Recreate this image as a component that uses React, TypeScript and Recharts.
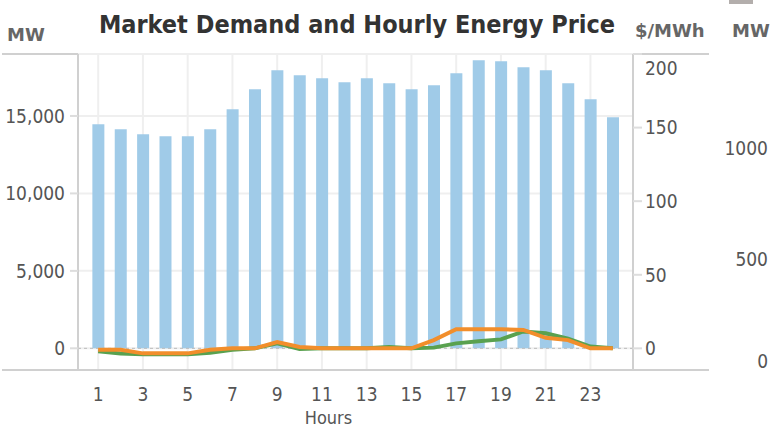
import React from "react";
import {
  Bar,
  CartesianGrid,
  ComposedChart,
  Line,
  ReferenceLine,
  XAxis,
  YAxis,
} from "recharts";

const hours = [1, 2, 3, 4, 5, 6, 7, 8, 9, 10, 11, 12, 13, 14, 15, 16, 17, 18, 19, 20, 21, 22, 23, 24];
const demandMw = [
  14460, 14140, 13820, 13690, 13690, 14140, 15430, 16720, 17950, 17630, 17430, 17180,
  17430, 17110, 16720, 16980, 17760, 18600, 18530, 18150, 17950, 17110, 16080, 14920,
];
const priceGreen = [-2, -3.5, -4, -4, -4, -3, -1, 0, 3.5, -0.5, 0, 0, 0, 1, 0, 0.5, 3.4, 4.8, 6.1, 11.5, 10.2, 6.6, 1.2, 0];
const priceOrange = [-1, -1, -3.4, -3.4, -3.4, -1, 0, 0, 4.3, 1, 0, 0, 0, 0, 0, 5.6, 13, 13, 13, 12.5, 7.2, 5.6, 0, 0];

const mwTicks = [0, 5000, 10000, 15000];
const priceTicks = [0, 50, 100, 150, 200];
const mw2Ticks = [0, 500, 1000];

const data = hours.map((h, i) => ({
  hour: h,
  demand: demandMw[i],
  green: priceGreen[i],
  orange: priceOrange[i],
}));

const FONT = "'DejaVu Sans Condensed', 'DejaVu Sans', sans-serif";
const tickStyle = { fontSize: 19, fill: "#555", fontFamily: FONT };

function PriceTick(p: any) {
  // keep the top label inside the frame
  const y = Math.max(p.y, 68);
  return (
    <text x={p.x} y={y} dy="0.355em" textAnchor="start" {...tickStyle}>
      {p.payload.value}
    </text>
  );
}

function Mw2Tick(p: any) {
  const y = Math.min(p.y, 361);
  return (
    <text x={p.x + 52} y={y} dy="0.355em" textAnchor="end" {...tickStyle}>
      {p.payload.value}
    </text>
  );
}

const unitStyle: React.CSSProperties = {
  position: "absolute",
  fontFamily: "'DejaVu Sans', sans-serif",
  fontWeight: 700,
  fontSize: 18,
  lineHeight: 1,
  color: "#666",
  whiteSpace: "nowrap",
};

export default function App() {
  return (
    <div style={{ position: "fixed", left: 0, top: 0, width: 771, height: 427, background: "#fff", overflow: "hidden" }}>
      <div style={{ position: "absolute", left: 2, top: 53, width: 707, height: 2, background: "#d0d0d0" }} />
      <div style={{ position: "absolute", left: 2, top: 369, width: 707, height: 2, background: "#d0d0d0" }} />
      <div style={{ position: "absolute", left: 729, top: 0, width: 24, height: 4, background: "#b3aeac" }} />
      <div
        style={{
          position: "absolute",
          left: 0,
          top: 12,
          width: 714,
          textAlign: "center",
          fontFamily: FONT,
          fontWeight: 700,
          fontSize: 25,
          lineHeight: 1,
          color: "#333",
        }}
      >
        Market Demand and Hourly Energy Price
      </div>
      <div style={{ ...unitStyle, left: 7, top: 26 }}>MW</div>
      <div style={{ ...unitStyle, left: 635, top: 22 }}>$/MWh</div>
      <div style={{ ...unitStyle, left: 732, top: 22 }}>MW</div>

      <div style={{ position: "absolute", left: 0, top: 0 }}>
        <ComposedChart
          width={771}
          height={427}
          data={data}
          margin={{ top: 54, right: 0, bottom: 0, left: 0 }}
          barCategoryGap="24%"
        >
          <CartesianGrid xAxisId="main" yAxisId="mw" stroke="#efefef" strokeWidth={2} />
          <XAxis
            xAxisId="a_hrs"
            dataKey="hour"
            height={0}
            interval={0}
            padding={{ left: 9, right: 9 }}
            axisLine={false}
            tickSize={10}
            tickLine={{ stroke: "#e8e8e8" }}
            tick={() => <g />}
          />
          <XAxis
            xAxisId="main"
            dataKey="hour"
            height={57}
            interval={1}
            padding={{ left: 9, right: 9 }}
            axisLine={{ stroke: "#d0d0d0", strokeWidth: 2 }}
            tickLine={false}
            tickSize={10}
            tickMargin={8}
            tick={tickStyle}
            label={{
              value: "Hours",
              position: "insideBottom",
              offset: 3,
              dx: -27,
              style: { fontSize: 18, fill: "#555", fontFamily: FONT },
            }}
          />
          <YAxis
            yAxisId="mw"
            width={78}
            domain={[-1400, 19000]}
            ticks={mwTicks}
            allowDataOverflow
            axisLine={{ stroke: "#d0d0d0", strokeWidth: 2 }}
            tickLine={{ stroke: "#ddd", strokeWidth: 2 }}
            tickSize={8}
            tickMargin={5}
            tick={tickStyle}
            tickFormatter={(v) => Number(v).toLocaleString("en-US")}
          />
          <YAxis
            yAxisId="a_price"
            orientation="right"
            width={75}
            domain={[-14.7, 200]}
            ticks={priceTicks}
            allowDataOverflow
            axisLine={{ stroke: "#d0d0d0", strokeWidth: 2 }}
            tickLine={{ stroke: "#ddd", strokeWidth: 2 }}
            tickSize={9}
            tickMargin={3}
            tick={PriceTick}
          />
          <YAxis
            yAxisId="z_mw2"
            orientation="right"
            width={63}
            type="number"
            domain={[0, 1423]}
            ticks={mw2Ticks}
            allowDataOverflow
            axisLine={false}
            tickLine={false}
            tick={Mw2Tick}
          />
          <Bar
            xAxisId="main"
            yAxisId="mw"
            dataKey="demand"
            fill="#a0cbe8"
            isAnimationActive={false}
          />
          <ReferenceLine xAxisId="main" yAxisId="mw" y={0} stroke="#bbb" strokeDasharray="3 3" />
          <Line
            xAxisId="main"
            yAxisId="a_price"
            dataKey="green"
            type="linear"
            stroke="#59a14f"
            strokeWidth={4}
            dot={false}
            isAnimationActive={false}
          />
          <Line
            xAxisId="main"
            yAxisId="a_price"
            dataKey="orange"
            type="linear"
            stroke="#f28e2b"
            strokeWidth={4}
            dot={false}
            isAnimationActive={false}
          />
        </ComposedChart>
      </div>
    </div>
  );
}
